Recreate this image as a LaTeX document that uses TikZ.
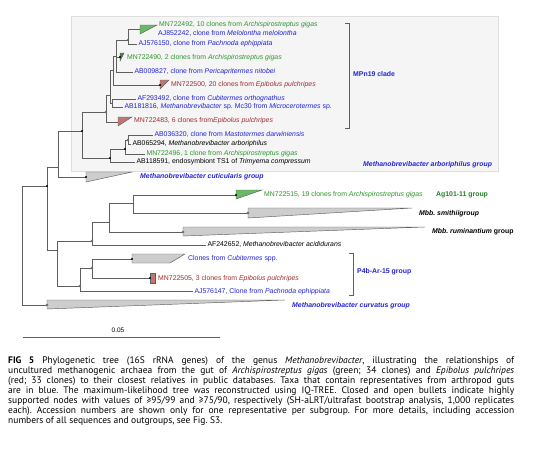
\documentclass[tikz,border=0pt]{standalone}
\usepackage{fontspec}
\setmainfont{Liberation Sans}
\newfontfamily\capfont{PT Sans}
\definecolor{tgreen}{RGB}{45,150,45}
\definecolor{tblue}{RGB}{35,35,215}
\definecolor{tred}{RGB}{160,45,45}
\definecolor{fgreen}{RGB}{105,185,105}
\definecolor{fred}{RGB}{190,120,115}
\definecolor{fgray}{RGB}{205,205,205}
\definecolor{boxbg}{RGB}{245,245,245}
\definecolor{brc}{RGB}{95,95,95}
\newcommand{\capline}[1]{\hbox to 506pt{#1}}
\begin{document}
\frenchspacing
\begin{tikzpicture}[x=1pt,y=-1pt,
  br/.style={draw=brc,line width=0.55pt},
  lf/.style={anchor=west,inner xsep=1.3pt,inner ysep=0pt,text height=4.9pt,text depth=1.4pt,font=\fontsize{6.9}{8}\selectfont},
  grp/.style={lf,font=\fontsize{6.9}{8}\selectfont\bfseries},
  tri/.style={draw=brc,line width=0.45pt},
  cdot/.style={circle,fill=black,inner sep=0pt,minimum size=2.3pt},
  odot/.style={circle,draw=black!80,fill=white,line width=0.4pt,inner sep=0pt,minimum size=2.4pt},
  capl/.style={anchor=west,inner sep=0pt,text height=7pt,text depth=2pt,font=\capfont\fontsize{9.5}{10}\selectfont}
]
\useasboundingbox (0,0) rectangle (554,450);
\fill[white] (0,0) rectangle (554,450);
\draw[draw=black!13,fill=boxbg,line width=0.4pt] (71,16) rectangle (498,171);

% ---- internal node coordinates
\coordinate (R) at (22,186);
\coordinate (N47) at (47,186);
\coordinate (N58) at (58,167);
\coordinate (N82) at (82,131);
\coordinate (ND) at (106,112);
\coordinate (NE) at (110,95);
\coordinate (NF) at (112,103);
\coordinate (NI) at (113,70);
\coordinate (NB) at (116,56);
\coordinate (NA) at (128,40);
\coordinate (N110) at (110,158);
\coordinate (NJ) at (125,149);
\coordinate (NK) at (128,140);
\coordinate (Ncut) at (86,177);
\coordinate (N57) at (57,250);
\coordinate (N92) at (92,241);
\coordinate (N109) at (109,222);
\coordinate (N133) at (133,203);
\coordinate (N80) at (80,286);
\coordinate (N92b) at (92,268);
\coordinate (Ncurv) at (47,305);
\coordinate (L492) at (140,29);
\coordinate (L490) at (120,57);
\coordinate (L500) at (160,85);
\coordinate (L483) at (118,122);
\coordinate (L515) at (236,195);
\coordinate (Lsmi) at (248,213);
\coordinate (Lrum) at (183,232);
\coordinate (Lcub) at (132,259);
\coordinate (L505) at (150,278);

% ---- collapsed groups
\draw[tri,fill=fgreen] (140,25) -- (157,25) -- (140,34) -- cycle;
\draw[tri,fill=fgreen!70!black] (120,53) -- (124,53) -- (120,61) -- cycle;
\draw[tri,fill=fred] (160,80) -- (169,80) -- (160,89) -- cycle;
\draw[tri,fill=fred] (118,117) -- (132,117) -- (118,126) -- cycle;
\draw[tri,fill=fgray] (86,172) -- (132,172) -- (86,182) -- cycle;
\draw[tri,fill=fgreen] (236,190) -- (262,190) -- (236,199) -- cycle;
\draw[tri,fill=fgray] (248,208) -- (412,208) -- (248,218) -- cycle;
\draw[tri,fill=fgray] (183,227) -- (425,227) -- (183,236) -- cycle;
\draw[tri,fill=fgray] (132,254) -- (185,254) -- (170,263) -- (132,263) -- cycle;
\draw[tri,fill=fred] (150,273) rectangle (155,283);
\draw[tri,fill=fgray] (47,300) -- (285,300) -- (47,309) -- cycle;

% ---- leaf labels
\node[lf,text=tgreen] (t492) at (157.7,25) {MN722492, 10 clones from \textit{Archispirostreptus gigas}};
\node[lf,text=tblue] (t242) at (156.7,34) {AJ852242, clone from \textit{Melolontha melolontha}};
\node[lf,text=tblue] (t150) at (137,44) {AJ576150, clone from \textit{Pachnoda ephippiata}};
\node[lf,text=tgreen] (t490) at (125.7,57.5) {MN722490, 2 clones from \textit{Archispirostreptus gigas}};
\node[lf,text=tblue] (t827) at (133,72) {AB009827, clone from \textit{Pericapritermes nitobei}};
\node[lf,text=tred] (t500) at (169.7,85) {MN722500, 20 clones from \textit{Epibolus pulchripes}};
\node[lf,text=tblue] (t492b) at (136,99) {AF293492, clone from \textit{Cubitermes orthognathus}};
\node[lf,text=tblue] (t816) at (123,107) {AB181816, \textit{Methanobrevibacter} sp. Mc30 from \textit{Microcerotermes} sp.};
\node[lf,text=tred] (t483) at (132.7,121) {MN722483, 6 clones from\textit{Epibolus pulchripes}};
\node[lf,text=tblue] (t320) at (153,135) {AB036320, clone from \textit{Mastotermes darwiniensis}};
\node[lf] (t294) at (131,144) {AB065294, \textit{Methanobrevibacter arboriphilus}};
\node[lf,text=tgreen] (t496) at (145,154) {MN722496, 1 clone from \textit{Archispirostreptus gigas}};
\node[lf] (t591) at (135,162) {AB118591, endosymbiont TS1 of \textit{Trimyema compressum}};
\node[grp,text=tblue] (gcut) at (138.7,177) {\textit{Methanobrevibacter cuticularis group}};
\node[lf,text=tgreen] (t515) at (262.7,195) {MN722515, 19 clones from \textit{Archispirostreptus gigas}};
\node[grp,text=tgreen!85!black] (gag) at (434.7,195) {Ag101-11 group};
\node[grp] (gsmi) at (417.7,214) {\textit{Mbb. smithiigroup}};
\node[grp] (grum) at (430.7,231.5) {\textit{Mbb. ruminantium} group};
\node[lf] (t652) at (206,245) {AF242652, \textit{Methanobrevibacter acididurans}};
\node[lf,text=tblue] (tcub) at (186.7,259) {Clones from \textit{Cubitermes} spp.};
\node[lf,text=tred] (t505) at (156.7,279) {MN722505, 3 clones from \textit{Epibolus pulchripes}};
\node[lf,text=tblue] (t147) at (193,291.5) {AJ576147, Clone from \textit{Pachnoda ephippiata}};
\node[grp,text=tblue] (gcurv) at (290.7,306) {\textit{Methanobrevibacter curvatus group}};
\node[grp,text=tblue] (gmpn) at (351.7,75) {MPn19 clade};
\node[grp,text=tblue] (garb) at (361.7,165) {\textit{Methanobrevibacter arboriphilus group}};
\node[grp,text=tblue] (gp4b) at (355.7,272) {P4b-Ar-15 group};

% ---- brackets
\draw[br,line width=0.5pt] (345,23) -- (349,23) -- (349,128) -- (345,128);
\draw[br,line width=0.5pt] (349,253) -- (353,253) -- (353,295) -- (349,295);

% ---- branches
\draw[br] (R) |- (N47);
\draw[br] (R) |- (Ncurv);
\draw[br] (N47) |- (N58);
\draw[br] (N47) |- (N57);
\draw[br] (N58) |- (N82);
\draw[br] (N58) |- (Ncut);
\draw[br] (N82) |- (ND);
\draw[br] (N82) |- (N110);
\draw[br] (ND) |- (NE);
\draw[br] (ND) |- (L483);
\draw[br] (NE) |- (NF);
\draw[br] (NE) |- (NI);
\draw[br] (NF) |- (t492b.west);
\draw[br] (NF) |- (t816.west);
\draw[br] (NI) |- (NB);
\draw[br] (NI) |- (L500);
\draw[br] (NB) |- (NA);
\draw[br] (NB) |- (L490);
\draw[br] (NB) |- (t827.west);
\draw[br] (NA) |- (L492);
\draw[br] (NA) |- (t150.west);
\draw[br] (N110) |- (NJ);
\draw[br] (N110) |- (t591.west);
\draw[br] (NJ) |- (NK);
\draw[br] (NJ) |- (t496.west);
\draw[br] (NK) |- (t320.west);
\draw[br] (NK) |- (t294.west);
\draw[br] (N57) |- (N92);
\draw[br] (N57) |- (N80);
\draw[br] (N92) |- (N109);
\draw[br] (N92) |- (t652.west);
\draw[br] (N109) |- (N133);
\draw[br] (N109) |- (Lrum);
\draw[br] (N133) |- (L515);
\draw[br] (N133) |- (Lsmi);
\draw[br] (N80) |- (N92b);
\draw[br] (N80) |- (t147.west);
\draw[br] (N92b) |- (Lcub);
\draw[br] (N92b) |- (L505);

% ---- support bullets
\node[cdot] (d47) at (N47) {};
\node[cdot] (d82) at (N82) {};
\node[cdot] (d110) at (N110) {};
\node[cdot] (dJ) at (NJ) {};
\node[cdot] (dcut) at (Ncut) {};
\node[cdot] (d500) at (L500) {};
\node[cdot] (d490) at (L490) {};
\node[cdot] (d515) at (L515) {};
\node[cdot] (dcub) at (Lcub) {};
\node[cdot] (d505) at (L505) {};
\node[odot] (oD) at (ND) {};
\node[odot] (oA) at (NA) {};
\node[odot] (oK) at (NK) {};
\node[odot] (o92) at (N92) {};
\node[odot] (o80) at (N80) {};
\node[odot] (o92b) at (N92b) {};
\node[odot] (osmi) at (Lsmi) {};
\node[odot] (orum) at (Lrum) {};
\node[odot] (ocurv) at (Ncurv) {};

% ---- scale bar
\node[lf,anchor=south,font=\fontsize{6.5}{7}\selectfont] (sclab) at (118,334) {0.05};
\coordinate (sb1) at (23,337);
\coordinate (sb2) at (220,337);
\draw[br,line width=0.6pt] (sb1) -- (sb2);

% ---- caption
\node[capl] (c1) at (8,361) {\capline{\textbf{FIG 5} Phylogenetic tree (16S rRNA genes) of the genus \textit{Methanobrevibacter}, illustrating the relationships of}};
\node[capl] (c2) at (8,371) {\capline{uncultured methanogenic archaea from the gut of \textit{Archispirostreptus gigas} (green; 34 clones) and \textit{Epibolus pulchripes}}};
\node[capl] (c3) at (8,381) {\capline{(red; 33 clones) to their closest relatives in public databases. Taxa that contain representatives from arthropod guts}};
\node[capl] (c4) at (8,391) {\capline{are in blue. The maximum-likelihood tree was reconstructed using IQ-TREE. Closed and open bullets indicate highly}};
\node[capl] (c5) at (8,401) {\capline{supported nodes with values of ≥95/99 and ≥75/90, respectively (SH-aLRT/ultrafast bootstrap analysis, 1,000 replicates}};
\node[capl] (c6) at (8,411) {\capline{each). Accession numbers are shown only for one representative per subgroup. For more details, including accession}};
\node[capl] (c7) at (8,421) {numbers of all sequences and outgroups, see Fig. S3.};
\end{tikzpicture}
\end{document}
